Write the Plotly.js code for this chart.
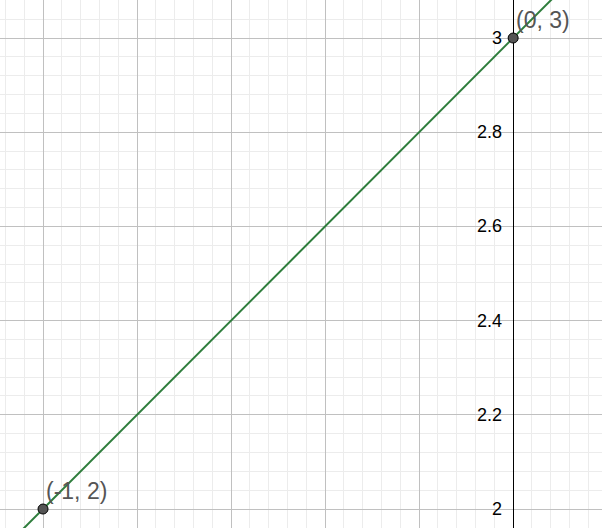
<!DOCTYPE html>
<html><head><meta charset="utf-8">
<script src="https://cdn.plot.ly/plotly-3.0.1.min.js"></script>
<style>html,body{margin:0;padding:0;background:#fff}</style>
</head><body><div id="c" style="width:602px;height:528px"></div>
<script>
const lineX = [-1.2, 0.3];
const lineY = [1.8, 3.3];
const ptX = [-1, 0];
const ptY = [2, 3];
const ptLabels = ["(-1, 2)", "(0, 3)"];
const yTicks = [2, 2.2, 2.4, 2.6, 2.8, 3];
const yTickLabels = ["2", "2.2", "2.4", "2.6", "2.8", "3"];

const ann = yTicks.map((v,i)=>({x:-0.02, y:v, xref:'x', yref:'y', text:yTickLabels[i], showarrow:false,
  xanchor:'right', yanchor:'middle', font:{family:'Liberation Sans, Arial, sans-serif', size:18, color:'#000'}}));
ptLabels.forEach((t,i)=>ann.push({x:ptX[i], y:ptY[i], xref:'x', yref:'y', text:t, showarrow:false,
  xanchor:'left', yanchor:'bottom', xshift:1, yshift:3, font:{family:'Liberation Sans, Arial, sans-serif', size:23, color:'#555'}}));

Plotly.newPlot('c', [
  {x:lineX, y:lineY, mode:'lines', line:{color:'#2e7d3c', width:2}, hoverinfo:'skip'},
  {x:ptX, y:ptY, mode:'markers', marker:{size:10, color:'#555', line:{color:'#000', width:1}}}
], {
  width:602, height:528, margin:{l:0,r:0,t:0,b:0}, showlegend:false,
  paper_bgcolor:'#fff', plot_bgcolor:'#fff',
  xaxis:{range:[-1.0915, 0.189], dtick:0.2, tick0:0, showgrid:true, gridcolor:'#c0c0c0', gridwidth:1,
    minor:{dtick:0.04, showgrid:true, gridcolor:'#ececec', gridwidth:1}, showticklabels:false, zeroline:true, zerolinecolor:'#000', zerolinewidth:1, ticks:''},
  yaxis:{range:[1.9597, 3.0807], dtick:0.2, tick0:0, showgrid:true, gridcolor:'#c0c0c0', gridwidth:1,
    minor:{dtick:0.04, showgrid:true, gridcolor:'#ececec', gridwidth:1}, showticklabels:false, zeroline:false, ticks:''},
  annotations:ann
}, {staticPlot:true});
</script></body></html>
